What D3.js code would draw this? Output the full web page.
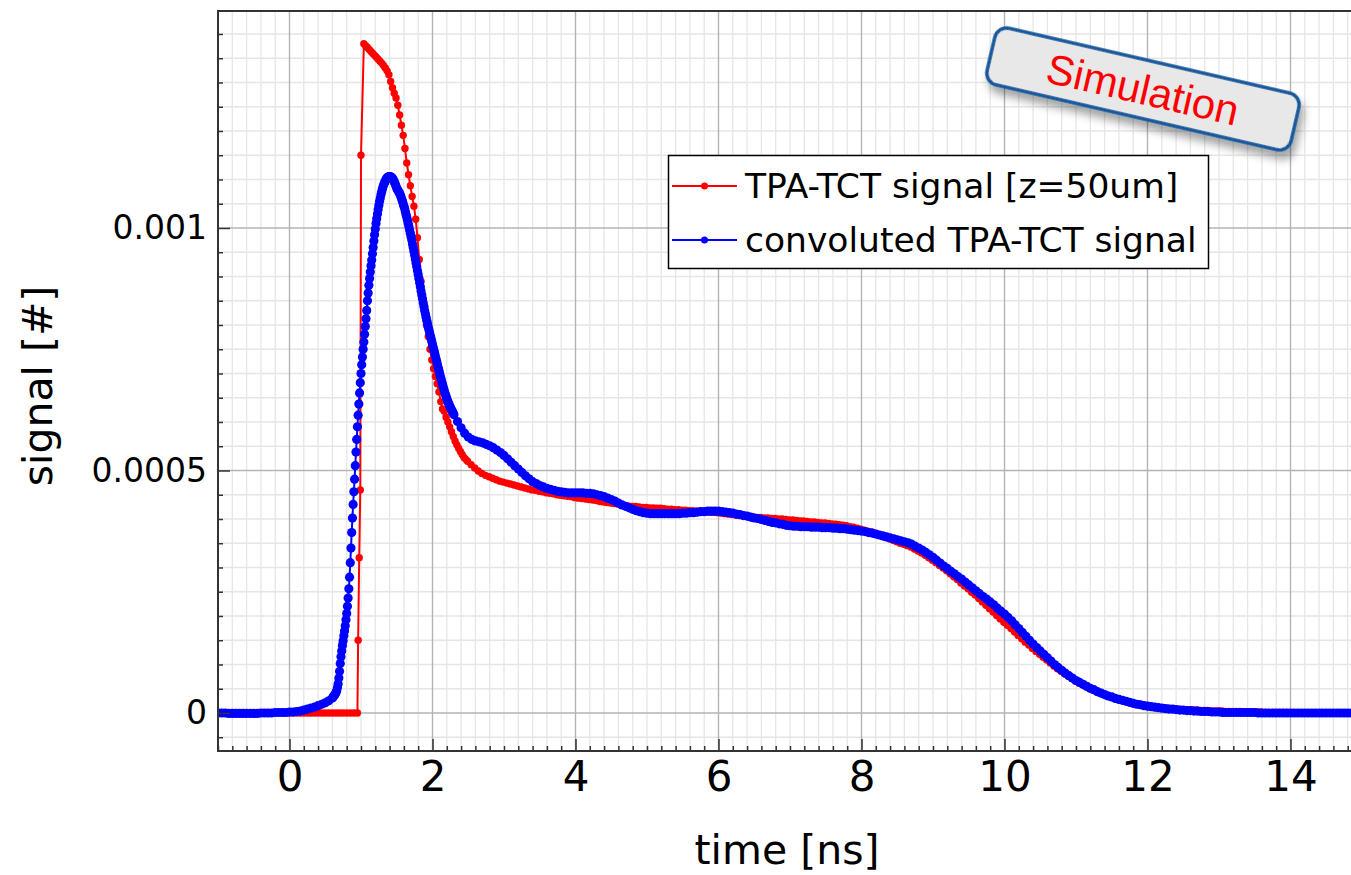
<!DOCTYPE html>
<html>
<head>
<meta charset="utf-8">
<script src="https://cdn.jsdelivr.net/npm/d3@7"></script>
<style>
html,body{margin:0;padding:0;background:#fff;overflow:hidden}
</style>
</head>
<body>
<svg id="chart" width="1351" height="875"></svg>
<script>
// ---------------- DATA ----------------
const xTicks = [0, 2, 4, 6, 8, 10, 12, 14];
const yTicks = [0, 0.0005, 0.001];
const yTickLabels = ["0", "0.0005", "0.001"];
const xLabel = "time [ns]";
const yLabel = "signal [#]";
const seriesNames = ["TPA-TCT signal [z=50um]", "convoluted TPA-TCT signal"];
const badgeText = "Simulation";

// All signal arrays below are in units of 1e-6 (i.e. 1000 -> 0.001)
const SIGNAL_UNIT = 1e-6;

// --- TPA-TCT signal [z=50um] (red) ---
// segment A: t = 0 .. 0.95, step 0.05
const redA_start = 0, redA_step = 0.05;
const redA_signal = [0,0,0,0,0,0,0,0,0,0,0,0,0,0,0,0,0,0,0,0];
// segment B: rising edge, explicit times
const redB_time = [0.96, 0.975, 0.99, 1.0];
const redB_signal = [150, 320, 460, 1150];
// segment C: t = 1.04 .. 2.49, step 0.025
const redC_start = 1.04, redC_step = 0.025;
const redC_signal = [1380,1376,1372,1368,1364,1360,1356,1352,1348,1344,
  1340,1335,1330,1324,1316,1302,1289,1278,1268,1253,
  1233,1212,1191,1164,1134,1110,1087,1065,1045,1018,
  980,935,890,852,825,800,776,750,728,710,
  694,679,662,642,627,622,610,600,590,580,
  570,561,553,546,539,533,527,523,519];
// segment D: t = 2.54 .. 13.99, step 0.05
const redD_start = 2.54, redD_step = 0.05;
const redD_signal = [
  512,505,499,494,490,487,484,481,478,476,
  474,472,470,468,466,464,462,460,459,457,
  456,454,453,452,450,449,448,447,446,444,
  443,442,441,440,439,438,436,435,434,433,
  432,431,429,428,427,426,426,425,424,424,
  423,423,422,422,421,420,420,419,419,418,
  418,417,417,416,416,415,415,414,414,413,
  412,411,410,409,408,407,406,405,404,404,
  403,403,402,402,401,401,400,400,399,398,
  398,397,396,396,395,394,394,393,392,392,
  391,390,389,388,387,386,384,383,381,379,
  377,375,373,370,368,365,362,359,356,353,
  350,348,345,342,338,334,330,325,320,315,
  310,304,299,293,287,281,275,268,262,256,
  249,243,236,229,222,215,208,201,194,187,
  181,174,167,160,153,146,140,133,127,121,
  115,109,103,97,91,86,81,76,71,66,
  62,58,54,50,47,44,41,38,35,33,
  30,28,26,24,22,21,19,18,16,15,
  14,13,12,11,10,10,9,8,8,7,
  7,6,6,6,5,5,5,4,4,4,
  4,3,3,3,3,3,2,2,2,2,
  2,2,1,1,1,1,1,1,1,1];

// --- convoluted TPA-TCT signal (blue) ---
// segment A: t = -1 .. 0.55, step 0.05
const blueA_start = -1, blueA_step = 0.05;
const blueA_signal = [0,0,0,-1,-1,-1,-1,-1,-1,-1,
  -1,-1,0,0,0,0,1,1,1,1,
  2,2,3,4,6,8,10,12,15,18,
  21,25];
// segment B: t = 0.60 .. 2.30, step 0.01
const blueB_start = 0.6, blueB_step = 0.01;
const blueB_signal = [
  31,33,35,37,39,42,46,52,60,72,
  86,102,116,128,139,149,159,169,180,192,
  205,220,237,256,280,310,340,372,402,430,
  456,482,510,538,564,590,614,637,660,681,
  700,718,734,750,765,781,797,813,830,850,
  866,882,896,909,922,934,947,960,973,986,
  998,1009,1019,1029,1038,1047,1055,1062,1069,1075,
  1081,1086,1090,1094,1097,1100,1102,1104,1105,1106,
  1106,1106,1105,1104,1102,1100,1097,1094,1090,1086,
  1082,1079,1077,1074,1071,1068,1064,1059,1055,1050,
  1045,1040,1034,1028,1022,1016,1009,1003,996,989,
  982,975,967,960,952,944,936,928,920,912,
  904,896,887,879,870,862,854,846,838,830,
  823,816,809,803,796,790,784,778,772,766,
  760,754,748,742,736,730,724,718,712,706,
  700,694,689,683,678,672,667,662,657,653,
  648,644,640,637,633,630,627,624,621,618,
  615];
// segment C: t = 2.35 .. 15.00, step 0.05
const blueC_start = 2.35, blueC_step = 0.05;
const blueC_signal = [
  601,588,577,569,
  564,561,559,557,554,551,547,542,537,531,
  524,517,510,503,496,489,483,477,473,469,
  466,463,461,459,457,456,455,454,454,454,
  454,454,453,453,452,450,448,446,443,440,
  437,433,429,426,423,420,417,415,413,412,
  411,411,411,411,411,411,411,411,411,412,
  412,413,413,414,415,415,416,416,416,416,
  415,414,413,412,410,409,407,406,404,402,
  401,399,397,395,393,392,390,389,387,386,
  385,385,384,384,384,383,383,383,382,382,
  382,381,381,380,380,379,378,377,376,375,
  374,372,371,369,367,365,363,361,359,357,
  355,353,351,348,344,340,336,331,326,321,
  315,309,303,298,292,287,281,276,270,264,
  258,252,246,240,235,229,223,216,210,204,
  197,190,182,174,166,158,150,142,135,128,
  121,114,107,100,94,88,82,77,72,67,
  63,59,55,51,48,44,41,38,35,33,
  30,28,26,24,22,20,18,17,15,14,
  13,12,11,10,9,8,8,7,6,6,
  5,5,4,4,3,3,3,2,2,2,
  1,1,1,1,1,1,1,1,1,1,
  0,0,0,0,0,0,0,0,0,0,
  0,0,0,0,0,0,0,0,0,0,
  0,0,0,0,0,0,0,0,0,0];

// ---------------- BUILD POINTS ----------------
function seg(start, step, vals) {
  return vals.map((v, i) => ({t: +(start + i * step).toFixed(4), v: v * SIGNAL_UNIT}));
}
function segT(times, vals) {
  return vals.map((v, i) => ({t: times[i], v: v * SIGNAL_UNIT}));
}
const redData = [].concat(
  seg(redA_start, redA_step, redA_signal),
  segT(redB_time, redB_signal),
  seg(redC_start, redC_step, redC_signal),
  seg(redD_start, redD_step, redD_signal));
const blueData = [].concat(
  seg(blueA_start, blueA_step, blueA_signal),
  seg(blueB_start, blueB_step, blueB_signal),
  seg(blueC_start, blueC_step, blueC_signal));

// ---------------- CHART ----------------
const svg = d3.select("#chart");
const L = 218, T = 11, R = 1362, B = 751;
const x = d3.scaleLinear().domain([-1, 15]).range([L, R]);
const y = d3.scaleLinear().domain([-0.0000784, 0.0014474]).range([B, T]);

const FONT = "'DejaVu Sans', 'Liberation Sans', sans-serif";
const AXIS_COLOR = "#333";

const xMinor = d3.range(-5, 76).map(i => +(i * 0.2).toFixed(4)).filter(v => xTicks.indexOf(v) < 0);
const yMinor = d3.range(-1, 29).map(i => +(i * 0.00005).toFixed(6)).filter(v => yTicks.indexOf(v) < 0);

// minor grid
const grid = svg.append("g");
grid.selectAll(".gxm").data(xMinor).enter().append("line")
  .attr("x1", d => x(d)).attr("x2", d => x(d)).attr("y1", T).attr("y2", B)
  .attr("stroke", "#e6e6e6").attr("stroke-width", 1.3);
grid.selectAll(".gym").data(yMinor).enter().append("line")
  .attr("x1", L).attr("x2", R).attr("y1", d => y(d)).attr("y2", d => y(d))
  .attr("stroke", "#e6e6e6").attr("stroke-width", 1.3);
// major grid
grid.selectAll(".gx").data(xTicks).enter().append("line")
  .attr("x1", d => x(d)).attr("x2", d => x(d)).attr("y1", T).attr("y2", B)
  .attr("stroke", "#b4b4b4").attr("stroke-width", 1.4);
grid.selectAll(".gy").data(yTicks).enter().append("line")
  .attr("x1", L).attr("x2", R).attr("y1", d => y(d)).attr("y2", d => y(d))
  .attr("stroke", "#b4b4b4").attr("stroke-width", 1.4);

// clip
svg.append("defs").append("clipPath").attr("id", "plotclip")
  .append("rect").attr("x", L).attr("y", T).attr("width", R - L).attr("height", B - T);

const line = d3.line().x(d => x(d.t)).y(d => y(d.v));
const plot = svg.append("g").attr("clip-path", "url(#plotclip)");

const series = [
  {name: seriesNames[0], data: redData, color: "#ff0000", r: 3.7},
  {name: seriesNames[1], data: blueData, color: "#0000ff", r: 4.6}
];
series.forEach(s => {
  const g = plot.append("g");
  g.append("path").datum(s.data).attr("d", line)
    .attr("fill", "none").attr("stroke", s.color).attr("stroke-width", 2);
  g.selectAll("circle").data(s.data).enter().append("circle")
    .attr("cx", d => x(d.t)).attr("cy", d => y(d.v)).attr("r", s.r)
    .attr("fill", s.color);
});

// axes ticks (inward)
const axB = svg.append("g").attr("transform", `translate(0,${B})`);
axB.call(d3.axisBottom(x).tickValues(xMinor).tickSize(-5).tickFormat(""));
axB.call(g => g.select(".domain").remove());
const axB2 = svg.append("g").attr("transform", `translate(0,${B})`);
axB2.call(d3.axisBottom(x).tickValues(xTicks).tickSize(-12).tickPadding(10).tickFormat(d3.format("d")));
axB2.call(g => g.select(".domain").remove());
axB2.selectAll("text").attr("font-size", 42).attr("font-family", FONT).attr("fill", "#000");

const axL = svg.append("g").attr("transform", `translate(${L},0)`);
axL.call(d3.axisLeft(y).tickValues(yMinor).tickSize(-5).tickFormat(""));
axL.call(g => g.select(".domain").remove());
const axL2 = svg.append("g").attr("transform", `translate(${L},0)`);
axL2.call(d3.axisLeft(y).tickValues(yTicks).tickSize(-12).tickPadding(11)
  .tickFormat((d, i) => yTickLabels[i]));
axL2.call(g => g.select(".domain").remove());
axL2.selectAll("text").attr("font-size", 33).attr("font-family", FONT).attr("fill", "#000");
svg.selectAll(".tick line").attr("stroke", AXIS_COLOR).attr("stroke-width", 1.5);

// frame
svg.append("path")
  .attr("d", `M${R},${T}H${L}V${B}H${R}`)
  .attr("fill", "none").attr("stroke", AXIS_COLOR).attr("stroke-width", 2);

// axis labels
svg.append("text").attr("x", 787).attr("y", 864).attr("text-anchor", "middle")
  .attr("font-family", FONT).attr("font-size", 41).attr("fill", "#000").text(xLabel);
svg.append("text").attr("transform", "translate(52,386) rotate(-90)").attr("text-anchor", "middle")
  .attr("font-family", FONT).attr("font-size", 41).attr("fill", "#000").text(yLabel);

// legend
const lg = svg.append("g");
lg.append("rect").attr("x", 668.5).attr("y", 155.5).attr("width", 540).attr("height", 113)
  .attr("fill", "#fff").attr("stroke", "#000").attr("stroke-width", 1.5);
series.forEach((s, i) => {
  const cy = 186 + i * 54;
  lg.append("line").attr("x1", 672).attr("x2", 737).attr("y1", cy).attr("y2", cy)
    .attr("stroke", s.color).attr("stroke-width", 2);
  lg.append("circle").attr("cx", 704.5).attr("cy", cy).attr("r", 3.5).attr("fill", s.color);
  lg.append("text").attr("x", 745).attr("y", cy + 12)
    .attr("font-family", FONT).attr("font-size", 34.5).attr("fill", "#000").text(s.name);
});

// badge
const defs = svg.select("defs");
const f = defs.append("filter").attr("id", "shadow").attr("x", "-20%").attr("y", "-50%")
  .attr("width", "140%").attr("height", "200%");
f.append("feDropShadow").attr("dx", 5).attr("dy", 7).attr("stdDeviation", 4)
  .attr("flood-color", "#000").attr("flood-opacity", 0.35);
const bg = svg.append("g").attr("transform", "translate(1143,89) rotate(13)");
bg.append("rect").attr("x", -156).attr("y", -29).attr("width", 312).attr("height", 58)
  .attr("rx", 12).attr("ry", 12).attr("fill", "#e8e8e8")
  .attr("stroke", "#17589c").attr("stroke-width", 3.5).attr("filter", "url(#shadow)");
bg.append("text").attr("x", 0).attr("y", 0).attr("dy", "0.36em").attr("text-anchor", "middle")
  .attr("font-family", "'Liberation Sans', Arial, sans-serif").attr("font-size", 42)
  .attr("fill", "#ff0000").text(badgeText);
</script>
</body>
</html>
